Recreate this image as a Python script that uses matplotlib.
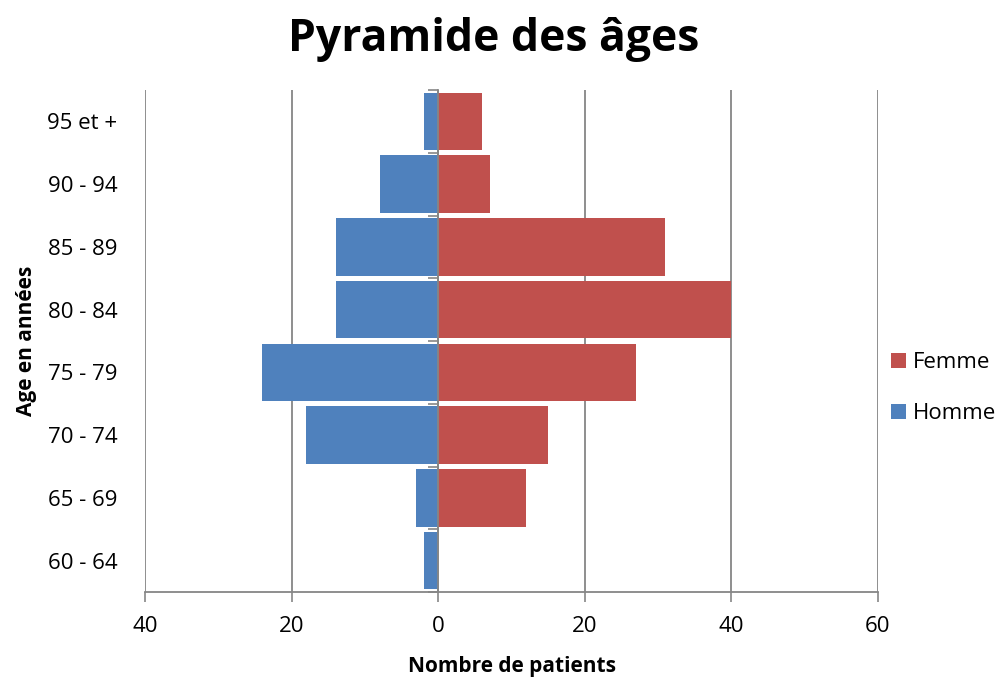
import matplotlib
matplotlib.use("Agg")
import matplotlib.pyplot as plt
import numpy as np
from matplotlib.ticker import FuncFormatter

categories = ["60 - 64", "65 - 69", "70 - 74", "75 - 79", "80 - 84", "85 - 89", "90 - 94", "95 et +"]
homme = [2, 3, 18, 24, 14, 14, 8, 2]
femme = [0, 12, 15, 27, 40, 31, 7, 6]
xticks = [-40, -20, 0, 20, 40, 60]

plt.rcParams['font.family'] = ['Open Sans', 'DejaVu Sans']
gray = '#868686'
blue = '#4F81BD'
red = '#C0504D'

fig = plt.figure(figsize=(9.98, 6.79), dpi=100)
ax = fig.add_axes([145/998, 1-592/679, (878-145)/998, (592-90)/679])

y = np.arange(len(categories))
ax.barh(y, femme, height=0.92, color=red, label='Femme', zorder=2)
ax.barh(y, [-v for v in homme], height=0.92, color=blue, label='Homme', zorder=2)

ax.set_xlim(-40, 60)
ax.set_ylim(-0.5, len(categories) - 0.5)
ax.set_xticks(xticks)
ax.xaxis.set_major_formatter(FuncFormatter(lambda v, p: f"{abs(int(v))}"))
ax.set_yticks(y)
ax.set_yticklabels(categories)
ax.tick_params(axis='y', length=0, pad=20, labelsize=16)
ax.tick_params(axis='x', length=7, width=1.2, color=gray, labelsize=16, pad=10)
ax.grid(axis='x', color=gray, linewidth=1.3, zorder=0)
ax.set_axisbelow(True)
for s in ['top', 'right', 'left']:
    ax.spines[s].set_visible(False)
ax.spines['bottom'].set_color(gray)
ax.spines['bottom'].set_linewidth(1.3)

# zero axis with boundary ticks
sec = ax.secondary_yaxis((0 - (-40)) / (60 - (-40)))
sec.spines['left'].set_color(gray)
sec.spines['left'].set_linewidth(1.3)
sec.set_yticks(np.arange(len(categories) + 1) - 0.5)
sec.set_yticklabels([])
sec.tick_params(axis='y', length=7, width=1.2, color=gray)
sec.set_zorder(3)

ax.set_xlabel('Nombre de patients', fontsize=15, fontweight='bold', labelpad=14)
ax.set_ylabel('Age en années', fontsize=15, fontweight='bold', labelpad=7)
fig.text(0.495, 1 - 40/679, 'Pyramide des âges', fontsize=32, fontweight='bold',
         ha='center', va='center')

leg = ax.legend(loc='center left', bbox_to_anchor=(1.0, (592-388)/502), frameon=False,
                fontsize=16, handlelength=0.65, handleheight=0.65, handletextpad=0.3,
                labelspacing=1.35, borderaxespad=0.2)

fig.savefig('out.png', dpi=100)
